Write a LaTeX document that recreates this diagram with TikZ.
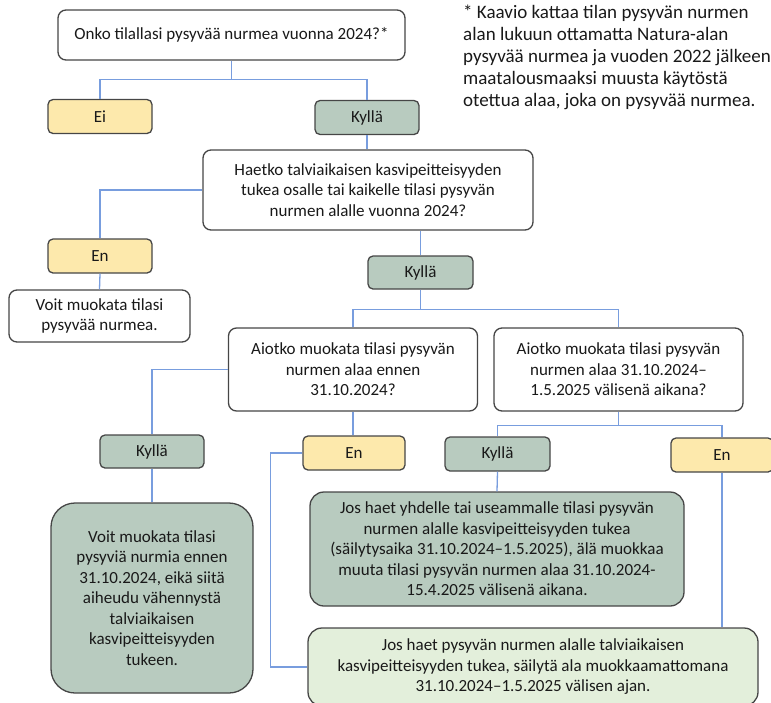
\documentclass[tikz,border=0pt]{standalone}
\usepackage{fontspec}
\setmainfont{Carlito}
\definecolor{edgegray}{RGB}{70,70,70}
\definecolor{yesgreen}{RGB}{184,203,191}
\definecolor{nobeige}{RGB}{253,233,172}
\definecolor{palegreen}{RGB}{227,239,219}
\definecolor{linkblue}{RGB}{120,157,222}
\begin{document}
\begin{tikzpicture}[x=1pt, y=-1pt,
  box/.style={draw=edgegray, line width=1.3pt, rounded corners=8pt, align=center,
    inner sep=0pt, font=\fontsize{17}{20.5}\selectfont, text=black!90},
  question/.style={box, fill=white},
  answer/.style={box, rounded corners=5pt, minimum width=104pt, minimum height=34pt},
  yes/.style={answer, fill=yesgreen},
  no/.style={answer, fill=nobeige},
  link/.style={draw=linkblue, line width=1.3pt}]
  \useasboundingbox (0, 0) rectangle (771, 702);
  \node[question, minimum width=347pt, minimum height=50pt] (q1) at (231.5, 35)
    {Onko tilallasi pysyvää nurmea vuonna 2024?*};
  \node[no] (ei1) at (100, 116.5) {Ei};
  \node[yes] (ky1) at (367, 117.5) {Kyllä};
  \node[question, minimum width=330pt, minimum height=80pt] (q2) at (368, 190)
    {Haetko talviaikaisen kasvipeitteisyyden\\tukea osalle tai kaikelle tilasi pysyvän\\nurmen alalle vuonna 2024?};
  \node[no] (en2) at (100, 256) {En};
  \node[question, minimum width=181pt, minimum height=52pt] (voit1) at (99.5, 316)
    {Voit muokata tilasi\\pysyvää nurmea.};
  \node[yes, minimum width=105pt, minimum height=33pt] (ky2) at (420.5, 272.5) {Kyllä};
  \node[question, minimum width=249pt, minimum height=83pt] (q3) at (353, 369.5)
    {Aiotko muokata tilasi pysyvän\\nurmen alaa ennen\\31.10.2024?};
  \node[question, minimum width=249pt, minimum height=83pt] (q4) at (618.5, 369.5)
    {Aiotko muokata tilasi pysyvän\\nurmen alaa 31.10.2024–\\1.5.2025 välisenä aikana?};
  \node[yes, minimum height=33pt] (ky3) at (152, 451.5) {Kyllä};
  \node[no, minimum width=102pt] (en3) at (354, 453) {En};
  \node[yes, minimum width=105pt] (ky4) at (497.5, 454) {Kyllä};
  \node[no, minimum width=102pt] (en4) at (722, 455) {En};
  \node[box, fill=yesgreen, rounded corners=24pt, minimum width=202pt, minimum height=190pt]
    (res3) at (152, 598)
    {Voit muokata tilasi\\pysyviä nurmia ennen\\31.10.2024, eikä siitä\\aiheudu vähennystä\\talviaikaisen\\kasvipeitteisyyden\\tukeen.};
  \node[box, fill=yesgreen, rounded corners=14pt, minimum width=374pt, minimum height=114pt]
    (res4) at (497, 549)
    {Jos haet yhdelle tai useammalle tilasi pysyvän\\nurmen alalle kasvipeitteisyyden tukea\\(säilytysaika 31.10.2024–1.5.2025), älä muokkaa\\muuta tilasi pysyvän nurmen alaa 31.10.2024-\\15.4.2025 välisenä aikana.};
  \node[box, fill=palegreen, rounded corners=14pt, minimum width=450pt, minimum height=78pt]
    (res5) at (533, 667)
    {Jos haet pysyvän nurmen alalle talviaikaisen\\kasvipeitteisyyden tukea, säilytä ala muokkaamattomana\\31.10.2024–1.5.2025 välisen ajan.};
  \node[anchor=north west, align=left, inner sep=0pt, text=black!90,
    font=\fontsize{19}{22}\selectfont] (note) at (463, 5)
    {* Kaavio kattaa tilan pysyvän nurmen\\alan lukuun ottamatta Natura-alan\\pysyvää nurmea ja vuoden 2022 jälkeen\\maatalousmaaksi muusta käytöstä\\otettua alaa, joka on pysyvää nurmea.};
  % connectors
  \draw[link] (q1.south) -- ++(0, 19) -| (ei1.north);
  \draw[link] (q1.south) -- ++(0, 19) -| (ky1.north);
  \draw[link] (ky1.south) -- (ky1.south |- q2.north);
  \draw[link] (q2.west) -| (en2.north);
  \draw[link] (en2.south) -- (voit1.north);
  \draw[link] (ky2.north |- q2.south) -- (ky2.north);
  \draw[link] (ky2.south) -- ++(0, 20) -| (q3.north);
  \draw[link] (ky2.south) -- ++(0, 20) -| (q4.north);
  \draw[link] (q3.west) -| (ky3.north);
  \draw[link] (ky3.south) -- (res3.north);
  \draw[link] (q3.south) -- (q3.south |- en3.north);
  \draw[link] (en3.west) -- ++(-32, 0) |- (res5.west);
  \draw[link] (q4.south) -- ++(0, 13.5) -| (ky4.north);
  \draw[link] (q4.south) -- ++(0, 13.5) -| (en4.north);
  \draw[link] (ky4.south) -- (res4.north);
  \draw[link] (en4.south) -- (en4.south |- res5.north);
\end{tikzpicture}
\end{document}
